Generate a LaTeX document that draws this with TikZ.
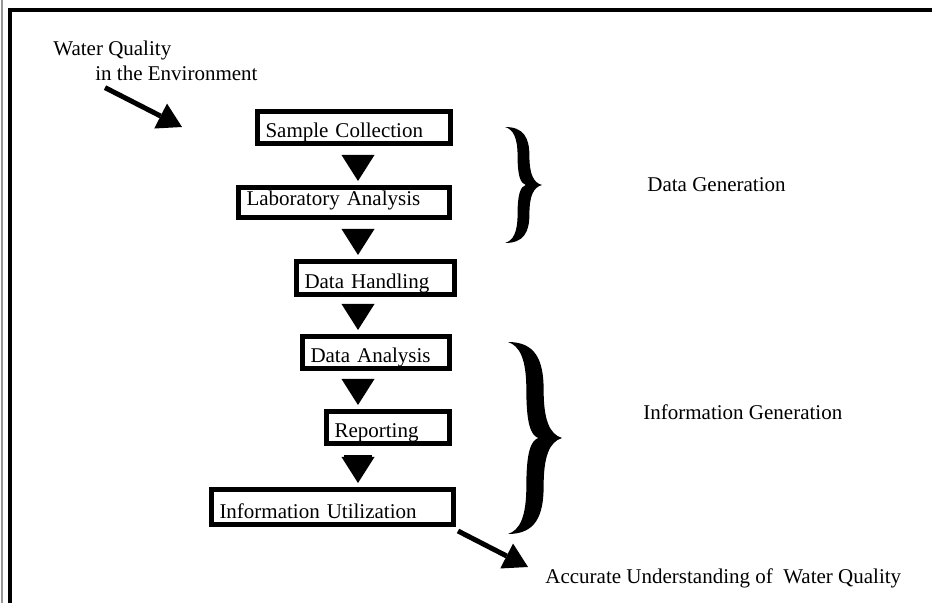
\documentclass[tikz,border=0pt]{standalone}
\usepackage{fontspec}
\setmainfont{Liberation Serif}
\usepackage{tikz}
\usetikzlibrary{
  positioning,
  arrows.meta
}
\definecolor{FrameGray}{RGB}{150,150,150}
\definecolor{InkBlack}{RGB}{0,0,0}
\tikzset{
  % Stage box
  stage/.style={
    draw=InkBlack,
    fill=white,
    line width=2.5pt,
    minimum height=16pt,
    inner xsep=4pt,
    inner ysep=0pt,
    text height=10.5pt,
    text depth=0pt,
    align=left,
    font=\fontsize{10.5}{12}\selectfont
  },
  % Step arrow between stages
  flow/.style={
    draw=InkBlack,
    line width=14pt,
    -{Triangle[width=16.5pt,length=13pt,line width=0pt]},
    shorten <=4.5pt,
    shorten >=2pt
  },
  % Slanted lead arrow
  lead/.style={
    draw=InkBlack,
    line width=2.5pt,
    -{Triangle[width=14pt,length=12pt,line width=0pt]}
  },
  % Plain text label
  tlabel/.style={
    anchor=base west,
    inner sep=0pt,
    font=\fontsize{10.5}{12}\selectfont
  },
  % Page frame
  frame/.style={
    draw=InkBlack,
    line width=1.8pt
  }
}

\begin{document}
\begin{tikzpicture}[x=0.5pt,y=-0.5pt]
  \useasboundingbox (0,0) rectangle (932,603);

  % frame
  \draw[FrameGray, line width=0.6pt] (2,0) -- (2,603);
  \draw[frame] (10,603) -- (10,10) -- (932,10);

  % stages
  \node[stage, text width=88.5pt] (sample) at (354,127.5) {Sample Collection};
  \node[stage, text width=97.5pt, minimum height=15pt, text height=3.5pt] (lab) at (344,202.5) {Laboratory Analysis};
  \node[stage, text width=71pt, minimum height=16.5pt] (handling) at (375.5,278) {Data Handling};
  \node[stage, text width=65.5pt] (analysis) at (376,352.5) {Data Analysis};
  \node[stage, text width=53.5pt] (report) at (388,427.5) {Reporting};
  \node[stage, text width=113pt, minimum height=17.5pt, text height=11.5pt] (util) at (332.5,507) {Information Utilization};

  % step arrows
  \coordinate (col) at (358,0);
  \foreach \a/\b in {sample/lab,lab/handling,handling/analysis,analysis/report,report/util} {
    \draw[flow] (\a.south -| col) -- (\b.north -| col);
  }

  % input
  \node[tlabel] (wq) at (53,56) {Water Quality};
  \node[tlabel] (env) at (95,81) {in the Environment};
  \coordinate (wqin) at (182,127);
  \draw[lead] ([shift={(5pt,-3pt)}]env.south west) -- (wqin);

  % output
  \node[tlabel] (out) at (545,584) {Accurate Understanding of\ \ Water Quality};
  \coordinate (outin) at (528,567);
  \draw[lead] ([shift={(1pt,-2pt)}]util.south east) -- (outin);

  % groups
  \foreach \bx/\by/\bw/\bh in {505/185/37/58, 508/438/54/96} {
    \begin{scope}[shift={(\bx,\by)}, xscale=\bw, yscale=\bh]
      \fill[InkBlack] (0,-1)
        .. controls (0.5,-1) and (0.66,-0.82) .. (0.66,-0.5)
        .. controls (0.66,-0.2) and (0.76,-0.04) .. (1,0)
        .. controls (0.76,0.04) and (0.66,0.2) .. (0.66,0.5)
        .. controls (0.66,0.82) and (0.5,1) .. (0,1)
        .. controls (0.22,0.96) and (0.34,0.82) .. (0.34,0.5)
        .. controls (0.34,0.15) and (0.42,0.03) .. (0.56,0)
        .. controls (0.42,-0.03) and (0.34,-0.15) .. (0.34,-0.5)
        .. controls (0.34,-0.82) and (0.22,-0.96) .. (0,-1) -- cycle;
    \end{scope}
  }
  \node[tlabel] (dgtext) at (647,192) {Data Generation};
  \node[tlabel] (igtext) at (643,420) {Information Generation};
\end{tikzpicture}
\end{document}
